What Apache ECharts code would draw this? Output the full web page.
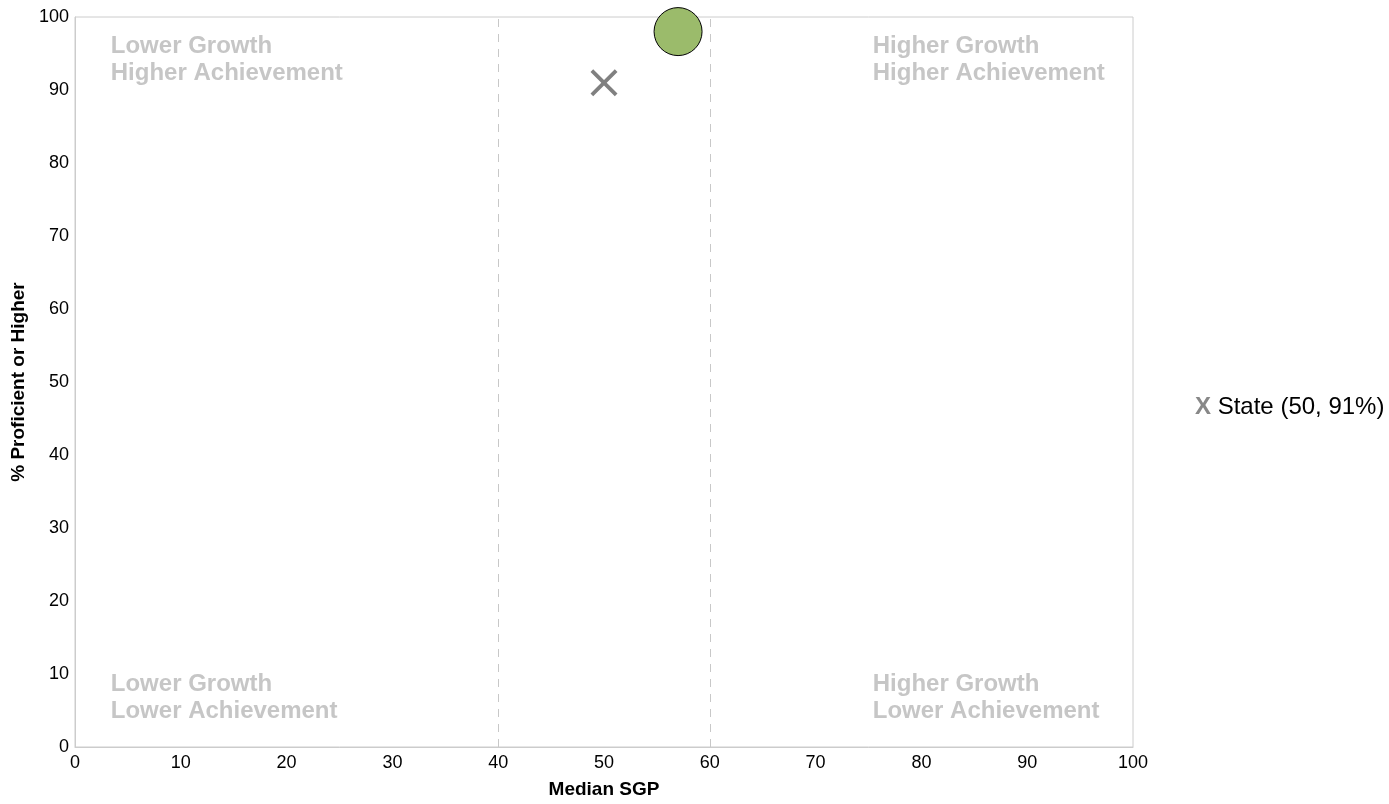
<!DOCTYPE html>
<html>
<head>
<meta charset="utf-8">
<script src="https://cdn.jsdelivr.net/npm/echarts@6/dist/echarts.min.js"></script>
<style>
html,body{margin:0;padding:0;background:#fff;}
#chart{width:1389px;height:804px;}
</style>
</head>
<body>
<div id="chart"></div>
<script>
// ---- data ----
const schoolPoint = [[57, 98]];          // Median SGP, % Proficient or Higher
const statePoint = [[50, 91]];
const stateName = 'State';
const growthCutoffs = [40, 60];
const quadrantTexts = [
  'Lower Growth\nHigher Achievement',
  'Higher Growth\nHigher Achievement',
  'Lower Growth\nLower Achievement',
  'Higher Growth\nLower Achievement'
];
const xAxisTitle = 'Median SGP';
const yAxisTitle = '% Proficient or Higher';

// ---- layout (annotation anchors in data units) ----
const quadrantAnchors = [[3.43, 97.8], [75.45, 97.8], [3.43, 10.4], [75.45, 10.4]];

const FONT = '"Liberation Sans", Arial, Helvetica, sans-serif';
const chart = echarts.init(document.getElementById('chart'));

const option = {
  animation: false,
  backgroundColor: '#fff',
  textStyle: { fontFamily: FONT },
  grid: { left: 75, right: 256, top: 17, bottom: 51, show: true, borderColor: '#cccccc', borderWidth: 1, containLabel: false },
  xAxis: {
    type: 'value', min: 0, max: 100, interval: 10,
    name: xAxisTitle, nameLocation: 'middle', nameGap: 33,
    nameTextStyle: { fontFamily: FONT, fontSize: 19, fontWeight: 'bold', color: '#000' },
    axisLine: { show: true, lineStyle: { color: '#cccccc' } },
    axisTick: { show: false },
    splitLine: { show: false },
    axisLabel: { fontFamily: FONT, fontSize: 18, color: '#000', margin: 7 }
  },
  yAxis: {
    type: 'value', min: 0, max: 100, interval: 10,
    name: yAxisTitle, nameLocation: 'middle', nameGap: 47, nameRotate: 90,
    nameTextStyle: { fontFamily: FONT, fontSize: 19, fontWeight: 'bold', color: '#000' },
    axisLine: { show: true, lineStyle: { color: '#cccccc' } },
    axisTick: { show: false },
    splitLine: { show: false },
    axisLabel: { fontFamily: FONT, fontSize: 18, color: '#000', margin: 6 }
  },
  series: [
    {
      name: 'quadrants', type: 'scatter', z: 1, silent: true,
      symbolSize: 1, itemStyle: { color: 'transparent', opacity: 1 },
      data: quadrantTexts.map((t, i) => ({ value: quadrantAnchors[i], name: t })),
      label: {
        show: true, position: [0, 0], align: 'left', verticalAlign: 'top',
        formatter: p => p.name, opacity: 1,
        fontFamily: FONT, fontSize: 24, fontWeight: 'bold', color: '#c6c6c6', lineHeight: 27
      },
      markLine: {
        silent: true, symbol: 'none', label: { show: false },
        lineStyle: { color: '#c8c8c8', type: [8, 7], width: 1, opacity: 1 },
        data: growthCutoffs.map(v => ({ xAxis: v }))
      }
    },
    {
      name: stateName, type: 'scatter', z: 3,
      symbol: 'path://M0,10 L10,0 L50,40 L90,0 L100,10 L60,50 L100,90 L90,100 L50,60 L10,100 L0,90 L40,50 Z',
      symbolSize: 27,
      itemStyle: { color: '#808080', opacity: 1 },
      data: statePoint
    },
    {
      name: 'School', type: 'scatter', z: 4,
      symbolSize: 48,
      itemStyle: { color: '#9bbb6b', borderColor: '#000', borderWidth: 1, opacity: 1 },
      data: schoolPoint
    }
  ],
  graphic: [
    {
      type: 'text', left: 1195, top: 395, z: 10,
      style: {
        text: '{x|X} {t|' + stateName + ' (' + statePoint[0][0] + ', ' + statePoint[0][1] + '%)}',
        rich: {
          x: { fontFamily: FONT, fontSize: 24, fontWeight: 'bold', fill: '#888888' },
          t: { fontFamily: FONT, fontSize: 24, fill: '#000' }
        },
        font: '24px ' + FONT
      }
    }
  ]
};
chart.setOption(option);
</script>
</body>
</html>
